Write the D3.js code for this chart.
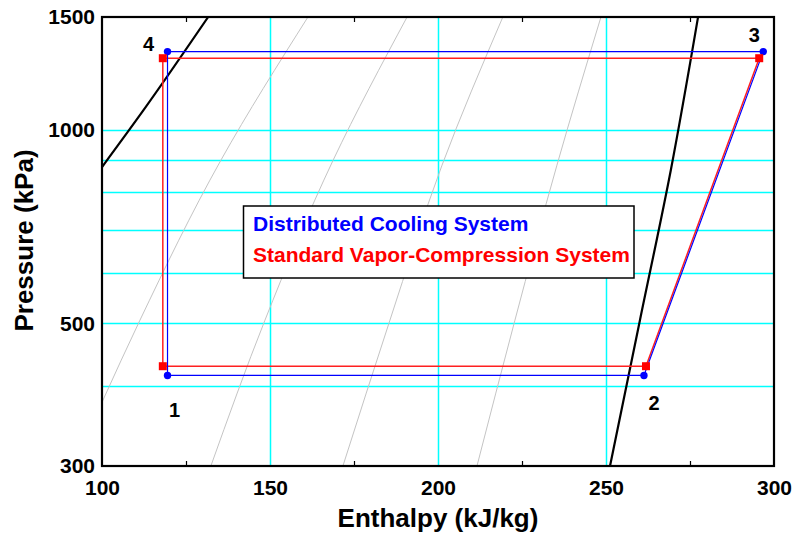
<!DOCTYPE html>
<html>
<head>
<meta charset="utf-8">
<script src="https://cdn.jsdelivr.net/npm/d3@7"></script>
<style>
  html, body { margin: 0; padding: 0; background: #fff; }
  svg { display: block; font-family: "Liberation Sans", Arial, sans-serif; }
</style>
</head>
<body>
<svg id="chart" width="796" height="535"></svg>
<script>
// ---------- data ----------
const xTicks = [100, 150, 200, 250, 300];
const xMinorTicks = [125, 175, 225, 275];
const yTicks = [300, 500, 1000, 1500];
const xGrid = [150, 200, 250];
const yGrid = [400, 500, 600, 700, 800, 900, 1000];

// cycle state points (enthalpy kJ/kg, pressure kPa), order 1,2,3,4
const stateLabels = ["1", "2", "3", "4"];
const distH = [119.5, 261.3, 296.8, 119.5];
const distP = [415, 415, 1325, 1325];
const stdH = [118.1, 261.9, 295.6, 118.1];
const stdP = [429, 429, 1294, 1294];

// saturation dome (black)
const satLiquid = [[131.6, 1500], [112.4, 1075], [100, 876]];
const satVapor = [[277.4, 1500], [269.3, 867], [260.1, 506], [251.2, 300]];

// gray property lines
const grayA = [[161.3, 1500], [135.4, 898], [111.3, 506], [100.3, 380], [99.5, 372]];
const grayB = [[190.8, 1500], [168.8, 898], [148.5, 506], [132.4, 300]];
const grayC = [[219.3, 1500], [201.2, 882], [185.7, 506], [171.7, 300]];
const grayD = [[248.5, 1500], [235.4, 882], [222.9, 506], [211.6, 300]];
const grayLines = [grayA, grayB, grayC, grayD];

const legendNames = ["Distributed Cooling System", "Standard Vapor-Compression System"];
const xTitle = "Enthalpy (kJ/kg)";
const yTitle = "Pressure (kPa)";

// ---------- layout ----------
const L = 102, R = 774, T = 17, B = 466;
const svg = d3.select("#chart");
const x = d3.scaleLinear().domain([100, 300]).range([L, R]);
const y = d3.scaleLog().domain([300, 1500]).range([B, T]);
const snap = v => Math.round(v) + 0.5;

svg.append("defs").append("clipPath").attr("id", "plotclip")
  .append("rect").attr("x", L).attr("y", T).attr("width", R - L).attr("height", B - T);

// grid
const grid = svg.append("g");
grid.selectAll("line.gx").data(xGrid).join("line")
  .attr("x1", d => snap(x(d))).attr("x2", d => snap(x(d))).attr("y1", T).attr("y2", B)
  .attr("stroke", "#00ffff").attr("stroke-width", 1.5);
grid.selectAll("line.gy").data(yGrid).join("line")
  .attr("y1", d => snap(y(d))).attr("y2", d => snap(y(d))).attr("x1", L).attr("x2", R)
  .attr("stroke", "#00ffff").attr("stroke-width", 1.5);

const clipG = svg.append("g").attr("clip-path", "url(#plotclip)");
const curveLine = d3.line().x(d => x(d[0])).y(d => y(d[1])).curve(d3.curveMonotoneY);

clipG.selectAll("path.gray").data(grayLines).join("path")
  .attr("d", curveLine).attr("fill", "none").attr("stroke", "#c4c4c4").attr("stroke-width", 1);

clipG.selectAll("path.sat").data([satLiquid, satVapor]).join("path")
  .attr("d", curveLine).attr("fill", "none").attr("stroke", "#000").attr("stroke-width", 2.2);

// cycles
const cycleLine = d3.line().x(d => x(d[0])).y(d => y(d[1])).curve(d3.curveLinearClosed);
const stdPts = stdH.map((h, i) => [h, stdP[i]]);
const distPts = distH.map((h, i) => [h, distP[i]]);

svg.append("path").attr("d", cycleLine(stdPts)).attr("fill", "none")
  .attr("stroke", "#ff2020").attr("stroke-width", 1.5);
svg.append("path").attr("d", cycleLine(distPts)).attr("fill", "none")
  .attr("stroke", "#0000ff").attr("stroke-width", 1.2);

svg.selectAll("circle.dist").data(distPts).join("circle")
  .attr("cx", d => x(d[0])).attr("cy", d => y(d[1])).attr("r", 3.7).attr("fill", "#0000ff");
svg.selectAll("rect.std").data(stdPts).join("rect")
  .attr("x", d => x(d[0]) - 4).attr("y", d => y(d[1]) - 4)
  .attr("width", 8).attr("height", 8).attr("fill", "#ff0000");

// state labels (offsets from the distributed-cycle markers)
const labelOffsets = [[7, 42], [10, 35], [-9, -10], [-19, -1]];
svg.selectAll("text.state").data(stateLabels).join("text")
  .attr("x", (d, i) => x(distH[i]) + labelOffsets[i][0])
  .attr("y", (d, i) => y(distP[i]) + labelOffsets[i][1])
  .attr("text-anchor", "middle").attr("font-size", 20).attr("font-weight", "bold")
  .text(d => d);

// frame
svg.append("rect").attr("x", L).attr("y", T).attr("width", R - L).attr("height", B - T)
  .attr("fill", "none").attr("stroke", "#000").attr("stroke-width", 2.2);

// axes
const xAxis = svg.append("g").attr("transform", `translate(0,${B})`)
  .call(d3.axisBottom(x).tickValues(xTicks).tickSize(0).tickPadding(14).tickFormat(d3.format("d")));
xAxis.select(".domain").remove();
xAxis.selectAll("text").attr("font-size", 21).attr("font-weight", "bold").attr("fill", "#000")
  .attr("font-family", "Liberation Sans, Arial, sans-serif");

const xMinB = svg.append("g").attr("transform", `translate(0,${B})`)
  .call(d3.axisBottom(x).tickValues(xMinorTicks).tickSizeInner(-5).tickSizeOuter(0).tickFormat(""));
xMinB.select(".domain").remove();
xMinB.selectAll("line").attr("stroke-width", 1.2);
const xMinT = svg.append("g").attr("transform", `translate(0,${T})`)
  .call(d3.axisTop(x).tickValues(xMinorTicks).tickSizeInner(-5).tickSizeOuter(0).tickFormat(""));
xMinT.select(".domain").remove();
xMinT.selectAll("line").attr("stroke-width", 1.2);

const yAxis = svg.append("g").attr("transform", `translate(${L},0)`)
  .call(d3.axisLeft(y).tickValues(yTicks).tickSize(0).tickPadding(7).tickFormat(d3.format("d")));
yAxis.select(".domain").remove();
yAxis.selectAll("text").attr("font-size", 21).attr("font-weight", "bold").attr("fill", "#000")
  .attr("font-family", "Liberation Sans, Arial, sans-serif");

// axis titles
svg.append("text").attr("x", (L + R) / 2).attr("y", 527).attr("text-anchor", "middle")
  .attr("font-size", 26).attr("font-weight", "bold").text(xTitle);
svg.append("text").attr("transform", `translate(33,${(T + B) / 2 - 1}) rotate(-90)`)
  .attr("text-anchor", "middle").attr("font-size", 26).attr("font-weight", "bold").text(yTitle);

// legend
const lg = svg.append("g");
lg.append("rect").attr("x", 243.5).attr("y", 206).attr("width", 390.5).attr("height", 72)
  .attr("fill", "#fff").attr("stroke", "#000").attr("stroke-width", 1.5);
const legendColors = ["#0000ff", "#ff0000"];
lg.selectAll("text").data(legendNames).join("text")
  .attr("x", 253).attr("y", (d, i) => 231 + i * 31)
  .attr("font-size", 21).attr("font-weight", "bold")
  .attr("fill", (d, i) => legendColors[i]).text(d => d);
</script>
</body>
</html>
